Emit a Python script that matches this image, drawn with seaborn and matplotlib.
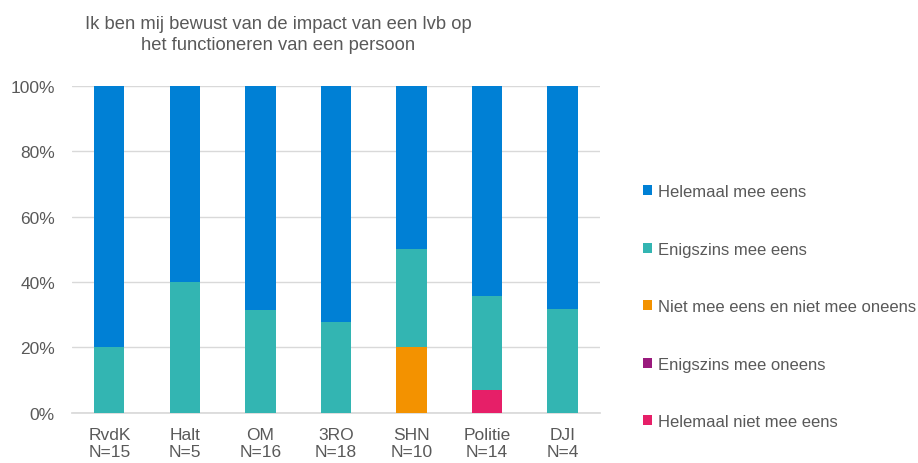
import pandas as pd
import seaborn as sns
from matplotlib import pyplot as plt
from matplotlib.patches import Patch
from matplotlib.ticker import PercentFormatter

organisaties = ["RvdK\nN=15", "Halt\nN=5", "OM\nN=16", "3RO\nN=18", "SHN\nN=10", "Politie\nN=14", "DJI\nN=4"]

# percentages per antwoordcategorie (van onder naar boven gestapeld)
helemaal_niet_eens = [0, 0, 0, 0, 0, 7.1, 0]
enigszins_oneens = [0, 0, 0, 0, 0, 0, 0]
neutraal = [0, 0, 0, 0, 20, 0, 0]
enigszins_eens = [20, 40, 31.3, 27.8, 30, 28.6, 31.7]
helemaal_eens = [80, 60, 68.7, 72.2, 50, 64.3, 68.3]

labels = ["Helemaal niet mee eens", "Enigszins mee oneens", "Niet mee eens en niet mee oneens",
          "Enigszins mee eens", "Helemaal mee eens"]
kleuren = ["#E61F68", "#9A1A7D", "#F39200", "#33B5B2", "#0080D5"]

df = pd.DataFrame({
    "organisatie": organisaties,
    labels[0]: helemaal_niet_eens,
    labels[1]: enigszins_oneens,
    labels[2]: neutraal,
    labels[3]: enigszins_eens,
    labels[4]: helemaal_eens,
})
cum = df[labels].cumsum(axis=1)

sns.set_theme(style="white")
plt.rcParams['font.family'] = ['Liberation Sans', 'DejaVu Sans']
grijs = "#595959"

fig = plt.figure(figsize=(9.18, 4.64), dpi=100)
ax = fig.add_axes([0.078, 0.108, 0.576, 0.705])

# grootste cumulatieve waarde eerst tekenen, kleinere eroverheen
for lab, kleur in zip(reversed(labels), reversed(kleuren)):
    sns.barplot(x=df["organisatie"], y=cum[lab], color=kleur, width=0.4,
                saturation=1, linewidth=0, ax=ax, zorder=3)

ax.set_ylim(0, 100)
ax.set_xlim(-0.5, 6.5)
ax.set_yticks([0, 20, 40, 60, 80, 100])
ax.yaxis.set_major_formatter(PercentFormatter(decimals=0))
ax.yaxis.grid(True, color="#D9D9D9", linewidth=1, zorder=0)
ax.set_axisbelow(True)
ax.set_xlabel("")
ax.set_ylabel("")
for s in ["top", "right", "left"]:
    ax.spines[s].set_visible(False)
ax.spines["bottom"].set_color("#D9D9D9")
ax.tick_params(axis="both", length=0, labelsize=12.5, colors=grijs)
ax.tick_params(axis="y", pad=12)
ax.tick_params(axis="x", pad=10)

fig.text(0.303, 0.925, "Ik ben mij bewust van de impact van een lvb op\nhet functioneren van een persoon",
         ha="center", va="center", fontsize=13.2, color=grijs, linespacing=1.35)

handles = [Patch(facecolor=k, edgecolor="none") for k in reversed(kleuren)]
leg = fig.legend(handles, list(reversed(labels)), loc="center left", bbox_to_anchor=(0.684, 0.337),
                 frameon=False, fontsize=12, labelspacing=2.55, handlelength=0.55, handleheight=0.55,
                 handletextpad=0.35)
for t in leg.get_texts():
    t.set_color(grijs)

plt.savefig("out.png", dpi=100)
